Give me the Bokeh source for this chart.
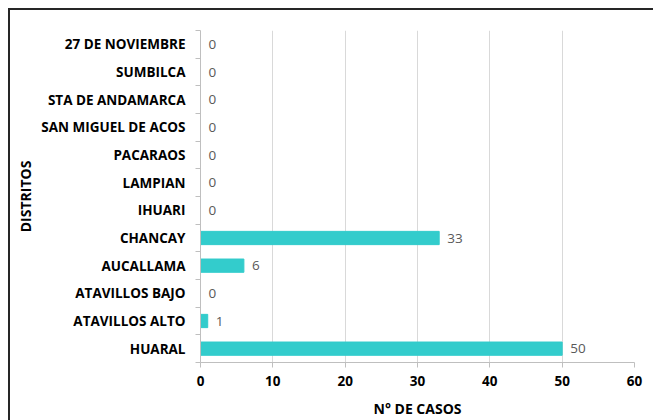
from bokeh.plotting import figure
from bokeh.models import FixedTicker, ColumnDataSource, Range1d
from bokeh.core.properties import value
from bokeh.embed import file_html
from bokeh.resources import INLINE

# Data (bottom to top)
districts = ["HUARAL", "ATAVILLOS ALTO", "ATAVILLOS BAJO", "AUCALLAMA", "CHANCAY",
             "IHUARI", "LAMPIAN", "PACARAOS", "SAN MIGUEL DE ACOS",
             "STA DE ANDAMARCA", "SUMBILCA", "27 DE NOVIEMBRE"]
cases = [50, 1, 0, 6, 33, 0, 0, 0, 0, 0, 0, 0]
x_ticks = [0, 10, 20, 30, 40, 50, 60]

FONT = "Open Sans"
BAR = "#33CCCC"

pos = [i + 0.5 for i in range(len(districts))]
src = ColumnDataSource(dict(y=pos, v=cases, lab=[str(c) for c in cases]))

p = figure(width=645, height=412, output_backend="svg", toolbar_location=None,
           x_range=Range1d(0, 60), y_range=Range1d(0, len(districts)),
           min_border_left=190, min_border_right=21, min_border_top=20,
           min_border_bottom=60)
p.margin = (8, 0, 0, 8)
p.outline_line_color = None
p.styles = {"border-top": "2px solid #262626", "border-left": "2px solid #262626"}

p.hbar(y="y", right="v", left=0, height=0.48, color=BAR, source=src)
p.text(x="v", y="y", text="lab", source=src, x_offset=8, text_baseline="middle",
       text_font=value(FONT), text_font_size="13.5px", text_color="#595959")

# x axis
p.xaxis.ticker = FixedTicker(ticks=x_ticks)
p.xaxis.axis_line_color = "#BFBFBF"
p.xaxis.major_tick_line_color = "#BFBFBF"
p.xaxis.major_tick_out = 5
p.xaxis.major_tick_in = 0
p.xaxis.minor_tick_line_color = None
p.xaxis.major_label_text_font = FONT
p.xaxis.major_label_text_font_style = "bold"
p.xaxis.major_label_text_font_size = "13.5px"
p.xaxis.major_label_text_color = "#000000"
p.xaxis.major_label_standoff = 8
p.xaxis.axis_label = "N° DE CASOS"
p.xaxis.axis_label_text_font = FONT
p.xaxis.axis_label_text_font_style = "bold"
p.xaxis.axis_label_text_font_size = "14px"
p.xaxis.axis_label_text_color = "#000000"
p.xaxis.axis_label_standoff = 10

# y axis
p.yaxis.ticker = FixedTicker(ticks=pos, minor_ticks=list(range(len(districts) + 1)))
p.yaxis.major_label_overrides = {pv: d for pv, d in zip(pos, districts)}
p.yaxis.axis_line_color = "#BFBFBF"
p.yaxis.major_tick_line_color = None
p.yaxis.minor_tick_line_color = "#BFBFBF"
p.yaxis.minor_tick_out = 5
p.yaxis.minor_tick_in = 0
p.yaxis.major_label_text_font = FONT
p.yaxis.major_label_text_font_style = "bold"
p.yaxis.major_label_text_font_size = "13.5px"
p.yaxis.major_label_text_color = "#000000"
p.yaxis.major_label_standoff = 9
p.yaxis.axis_label = "DISTRITOS"
p.yaxis.axis_label_text_font = FONT
p.yaxis.axis_label_text_font_style = "bold"
p.yaxis.axis_label_text_font_size = "14px"
p.yaxis.axis_label_text_color = "#000000"
p.yaxis.axis_label_standoff = 3

p.xgrid.grid_line_color = "#D9D9D9"
p.xgrid.ticker = FixedTicker(ticks=x_ticks[1:])
p.ygrid.grid_line_color = None

open("out.html", "w").write(file_html(p, INLINE))
